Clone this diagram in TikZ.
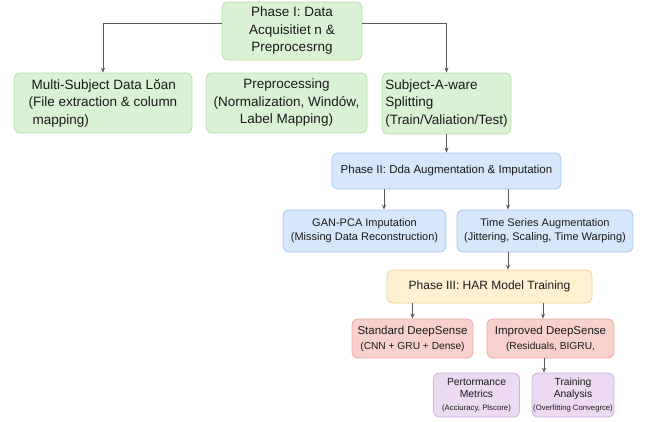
\documentclass[tikz,border=0pt]{standalone}
\usepackage{fontspec}
\setmainfont{Liberation Sans}
\usepackage{xcolor}
\usepackage{tikz}
\usetikzlibrary{arrows.meta,positioning,calc}

\definecolor{grfill}{HTML}{D9F2D3}
\definecolor{grline}{HTML}{B6E0AC}
\definecolor{blfill}{HTML}{D6E6FB}
\definecolor{blline}{HTML}{A8C7EF}
\definecolor{yefill}{HTML}{FEF0D0}
\definecolor{yeline}{HTML}{F4D38E}
\definecolor{rdfill}{HTML}{F9D1CC}
\definecolor{rdline}{HTML}{EDA9A1}
\definecolor{pufill}{HTML}{EBDAF2}
\definecolor{puline}{HTML}{CEB2DF}
\definecolor{txt}{HTML}{1A1A1A}

\begin{document}
\begin{tikzpicture}[x=1pt,y=-1pt,
  box/.style={rounded corners=6pt,inner sep=0pt,line width=0.8pt,text=txt},
  grbox/.style={box,fill=grfill,draw=grline,font=\fontsize{13.5}{17.5}\selectfont},
  blbox/.style={box,fill=blfill,draw=blline,font=\fontsize{11}{14}\selectfont},
  yebox/.style={box,fill=yefill,draw=yeline,font=\fontsize{12}{15}\selectfont},
  rdbox/.style={box,fill=rdfill,draw=rdline,font=\fontsize{11.5}{15}\selectfont},
  pubox/.style={box,fill=pufill,draw=puline,font=\fontsize{10.3}{12.5}\selectfont},
  arr/.style={-{Stealth[length=5pt,width=4pt]},draw=black!65,line width=0.7pt}]
  \useasboundingbox (0,0) rectangle (652,421);

  % phase I
  \node[grbox,minimum width=140pt,minimum height=58pt,align=center] (p1) at (292,31)
       {Phase I: Data\\Acquisitiet n \&\\Preprocesrng};
  \node[grbox,minimum width=178pt,minimum height=60pt,align=left] (load) at (103,103)
       {\hspace*{3pt}Multi-Subject Data Lŏan\\(File extraction \& column\\\hspace*{4pt}mapping)};
  \node[grbox,minimum width=161pt,minimum height=60pt,align=center] (prep) at (286.5,103)
       {Preprocessing\\(Normalization, Windów,\\Label Mapping)};
  \node[grbox,minimum width=129pt,minimum height=61pt,align=left] (split) at (446.5,103.5)
       {Subject-A-ware\\Splitting\\(Train/Valiation/Test)};

  % phase II
  \node[blbox,minimum width=229pt,minimum height=36pt,font=\fontsize{11.5}{14}\selectfont] (p2) at (446.5,171)
       {Phase II: Dda Augmentation \& Imputation};
  \node[blbox,minimum width=163pt,minimum height=42pt,align=center] (gan) at (364.5,231)
       {GAN-PCA Imputation\\(Missing Data Reconstruction)};
  \node[blbox,minimum width=176pt,minimum height=42pt,align=center] (ts) at (545,231)
       {Time Series Augmentation\\(Jittering, Scaling, Time Warping)};

  % phase III
  \node[yebox,minimum width=205pt,minimum height=33pt] (p3) at (489.5,286.5)
       {Phase III: HAR Model Training};
  \node[rdbox,minimum width=121pt,minimum height=39pt,align=center] (std) at (412.5,338.5)
       {Standard DeepSense\\{\fontsize{10.2}{13}\selectfont (CNN + GRU + Dense)}};
  \node[rdbox,minimum width=127pt,minimum height=39pt,align=center] (imp) at (550.5,338.5)
       {Improved DeepSense\\{\fontsize{10.2}{13}\selectfont (Residuals, BIGRU,}};
  \node[pubox,minimum width=86pt,minimum height=44pt,align=center] (perf) at (476.5,395)
       {Pertormance\\Metrics\\{\fontsize{7.8}{10}\selectfont (Acciuracy, Plscore)}};
  \node[pubox,minimum width=82pt,minimum height=44pt,align=center] (train) at (573,395)
       {Training\\Analysis\\{\fontsize{7.7}{10}\selectfont (Overfitting Convegrce)}};

  \coordinate (g1) at ([xshift=19.5pt]gan.north);
  \coordinate (t1) at ([xshift=-37pt]ts.north);
  \coordinate (h1) at ([xshift=18.5pt]p3.north);
  \coordinate (i1) at ([xshift=-7.5pt]imp.north);
  \coordinate (a1) at ([xshift=-29pt]train.north);

  \draw[arr] ([yshift=8pt]p1.west) -| (load);
  \draw[arr] ([yshift=8pt]p1.east) -| (split);
  \draw[arr] (split) -- (p2);
  \draw[arr] (g1 |- p2.south) -- (g1);
  \draw[arr] (t1 |- p2.south) -- (t1);
  \draw[arr] (h1 |- ts.south) -- (h1);
  \draw[arr] (std.north |- p3.south) -- (std.north);
  \draw[arr] (i1 |- p3.south) -- (i1);
  \draw[arr] (a1 |- imp.south) -- (a1);
\end{tikzpicture}
\end{document}
